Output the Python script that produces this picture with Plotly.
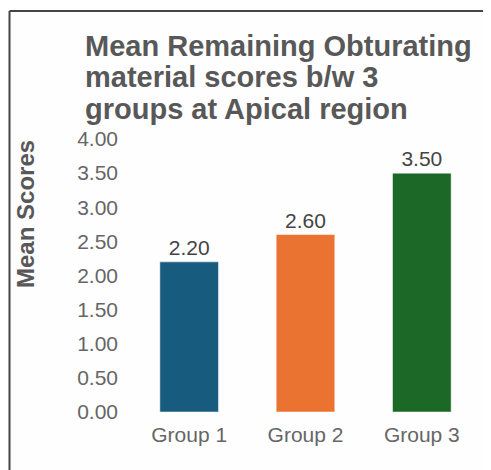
import plotly.graph_objects as go

groups = ["Group 1", "Group 2", "Group 3"]
mean_scores = [2.20, 2.60, 3.50]
bar_colors = ["#175b7e", "#ea7332", "#1c6827"]
y_ticks = [0, 0.5, 1, 1.5, 2, 2.5, 3, 3.5, 4]
y_tick_labels = ["0.00", "0.50", "1.00", "1.50", "2.00", "2.50", "3.00", "3.50", "4.00"]
title_lines = ["Mean Remaining Obturating", "material scores b/w 3", "groups at Apical region"]

# page body has an 8px margin, so figure coords = screen coords - 8
OFF = 8
W, H = 483, 462
ml, mr, mt, mb = 122.6, 11.1, 131, 58
pw = W - ml - mr
ph = H - mt - mb

def px_x(x):
    return (x - OFF - ml) / pw

def px_y(y):
    return (H - mb - (y - OFF)) / ph

FONT = "Liberation Sans"

fig = go.Figure(go.Bar(
    x=groups,
    y=mean_scores,
    marker=dict(color=bar_colors, line=dict(color="rgba(255,255,255,0.5)", width=1)),
    width=0.504,
    text=[f"{v:.2f}" for v in mean_scores],
    textposition="outside",
    textfont=dict(family=FONT, size=21, color="#444444"),
    cliponaxis=False,
))

annotations = []
for i, line in enumerate(title_lines):
    annotations.append(dict(
        text=line, xref="paper", yref="paper",
        x=px_x(83), y=px_y(45.5 + 32 * i),
        xanchor="left", yanchor="middle", showarrow=False,
        font=dict(family=FONT, size=29, color="#585858", weight="bold"),
    ))
annotations.append(dict(
    text="Mean Scores", textangle=-90,
    xref="paper", yref="paper",
    x=px_x(25), y=px_y(213.5),
    xanchor="center", yanchor="middle",
    showarrow=False,
    font=dict(family=FONT, size=24, color="#585858", weight="bold"),
))

fig.update_layout(
    width=W, height=H,
    margin=dict(l=ml, r=mr, t=mt, b=mb),
    paper_bgcolor="#fefefe",
    plot_bgcolor="#fefefe",
    showlegend=False,
    font=dict(family=FONT, color="#666666"),
    xaxis=dict(
        showgrid=False, zeroline=False, showline=False, ticks="",
        tickfont=dict(family=FONT, size=21, color="#666666"),
        ticklabelstandoff=8,
    ),
    yaxis=dict(
        range=[0, 4], showgrid=False, zeroline=False, showline=False, ticks="",
        tickvals=y_ticks, ticktext=y_tick_labels,
        tickfont=dict(family=FONT, size=21, color="#666666"),
        ticklabelstandoff=12,
    ),
    annotations=annotations,
    shapes=[
        dict(type="line", xref="paper", yref="paper",
             x0=px_x(9), x1=px_x(W + 20), y0=px_y(11), y1=px_y(11),
             line=dict(color="#444444", width=2)),
        dict(type="line", xref="paper", yref="paper",
             x0=px_x(9), x1=px_x(9), y0=px_y(11), y1=px_y(H + 20),
             line=dict(color="#444444", width=2)),
    ],
)

fig.write_html("out.html")
